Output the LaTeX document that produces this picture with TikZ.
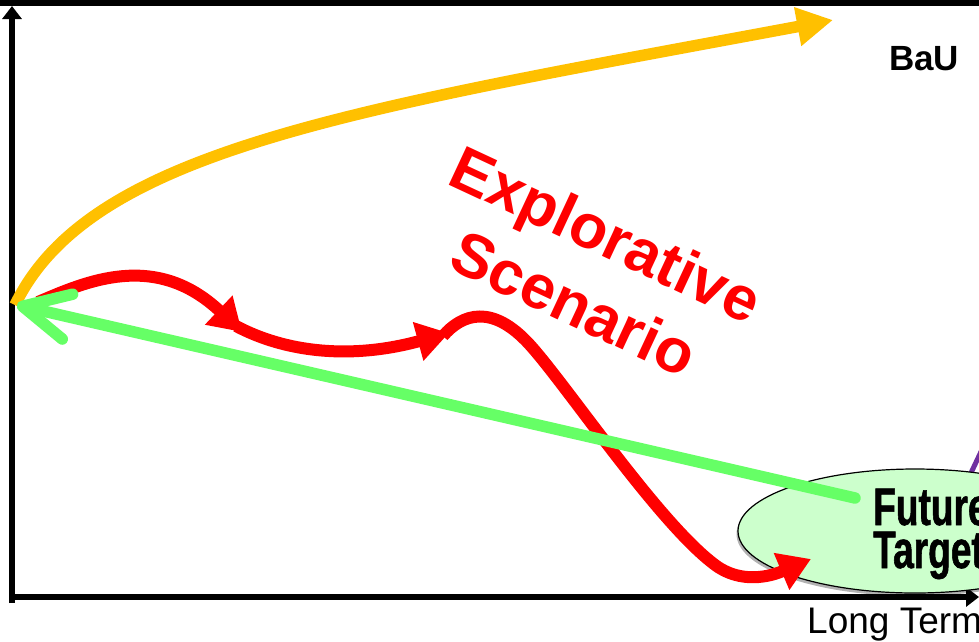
\documentclass[tikz,border=0pt]{standalone}
\usepackage{fontspec}
\setmainfont{Liberation Sans}
\newfontfamily\condfont[FakeStretch=0.70,FakeBold=1]{Liberation Sans}
\usetikzlibrary{arrows.meta,shadows,shapes.geometric}
\definecolor{bauorange}{HTML}{FFC000}
\definecolor{pathgreen}{HTML}{66FF66}
\definecolor{targetfill}{HTML}{CCFFCC}
\definecolor{backpurple}{HTML}{7030A0}
\begin{document}
\begin{tikzpicture}[x=1pt,y=-1pt,
  axisline/.style={line width=6.5pt,-{Triangle[length=13pt,width=19pt]}},
  baupath/.style={bauorange,line width=11.5pt,-{Triangle[length=36pt,width=37pt]}},
  redpath/.style={red,line width=12pt,-{Triangle[length=32pt,width=38pt]}},
  greenpath/.style={pathgreen,line width=11.5pt,line cap=round,-{Straight Barb[length=46pt,width=46pt,round]}},
  targetbox/.style={ellipse,draw=black,line width=1.2pt,fill=targetfill,
     minimum width=354pt,minimum height=124pt,inner sep=0pt,
     drop shadow={shadow xshift=-1.5pt,shadow yshift=-3pt,opacity=0.3,fill=black}},
  bigred/.style={text=red,font=\fontsize{62}{62}\selectfont\bfseries,rotate=-25,anchor=base,inner sep=0pt},
  targettext/.style={font=\condfont\bfseries\fontsize{53}{53}\selectfont,anchor=base west,inner sep=0pt},
  smalllabel/.style={font=\fontsize{35}{35}\selectfont,anchor=base west,inner sep=0pt}
]
\useasboundingbox (0,0) rectangle (979,641);
\clip (0,0) rectangle (979,641);
\fill[white] (0,0) rectangle (979,641);

% frame top line and axes
\coordinate (tl) at (0,3);
\coordinate (tr) at (979,3);
\draw[line width=6pt] (tl) -- (tr);
\coordinate (ybot) at (12,603);
\coordinate (ytop) at (12,6);
\coordinate (xbeg) at (9,597);
\coordinate (xend) at (979,597);
\draw[axisline] (ybot) -- (ytop);
\draw[axisline] (xbeg) -- (xend);

% purple line behind target
\coordinate (pa) at (944,530);
\coordinate (pb) at (996,420);
\draw[backpurple,line width=5pt] (pa) -- (pb);

% target ellipse
\node[targetbox] (target) at (915,531) {};
\node[targettext] (future) at (873,525) {Future};
\node[targettext] (targ) at (873,568) {Target};

% labels
\node[smalllabel,font=\fontsize{35}{35}\selectfont\bfseries] (bau) at (889,70) {BaU};
\node[smalllabel,font=\fontsize{37}{37}\selectfont] (longterm) at (807,633) {Long Term};
\node[bigred] (expl) at (597,254) {Explorative};
\node[bigred] (scen) at (565,323) {Scenario};

% BaU path
\coordinate (start) at (15,305);
\coordinate (bauend) at (833,20);
\draw[baupath] (start) .. controls (90,150) and (350,110) .. (bauend);

% red explorative path
\coordinate (r0) at (38,302);
\coordinate (r1) at (242,332);
\coordinate (r2) at (236,326);
\coordinate (r3) at (449,333);
\coordinate (r4) at (443,336);
\coordinate (r5) at (811,559);
\draw[redpath] (r0) .. controls (85,282) and (155,250) .. (r1);
\draw[redpath] (r2) .. controls (285,352) and (350,360) .. (r3);
\draw[redpath] (r4) .. controls (462,314) and (492,303) .. (530,345)
   .. controls (568,387) and (662,528) .. (718,567)
   .. controls (750,588) and (785,570) .. (r5);

% green backcasting path
\coordinate (g0) at (855,498);
\coordinate (g1) at (17,305);
\draw[greenpath] (g0) -- (g1);
\end{tikzpicture}
\end{document}
